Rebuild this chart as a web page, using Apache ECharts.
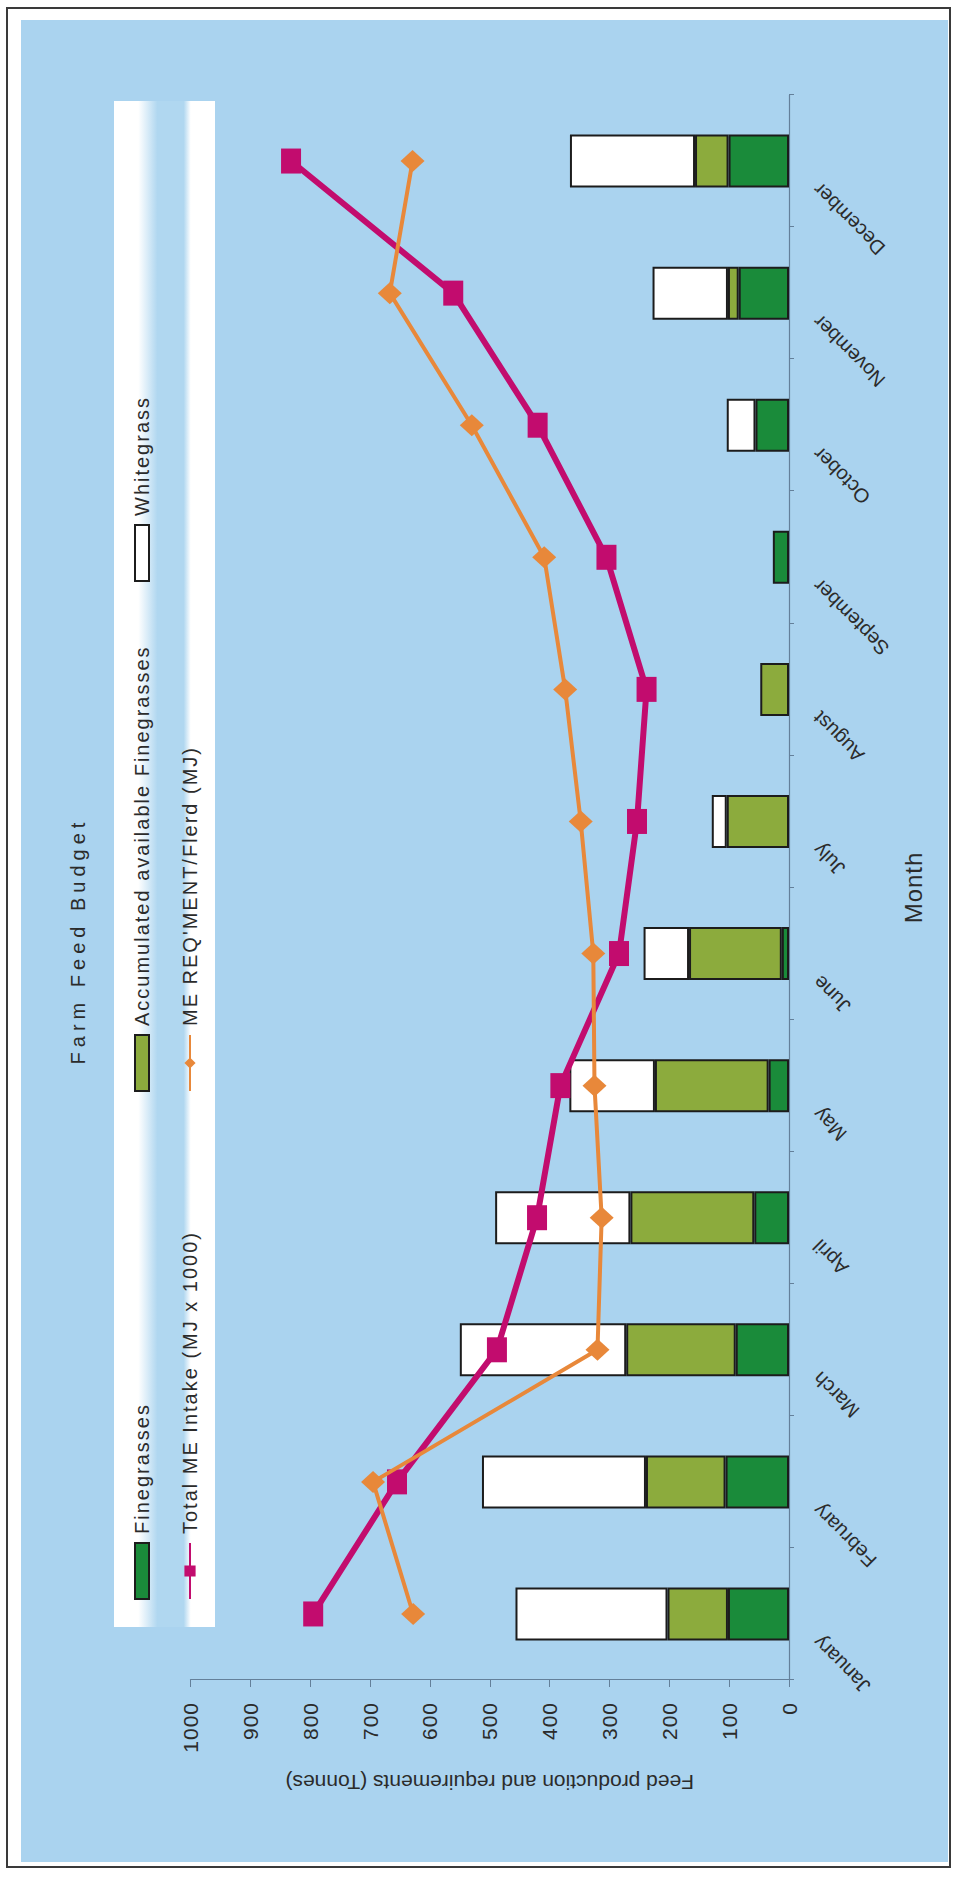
<!DOCTYPE html>
<html>
<head>
<meta charset="utf-8">
<title>Farm Feed Budget</title>
<script src="https://cdn.jsdelivr.net/npm/echarts@6/dist/echarts.min.js"></script>
<style>
  html, body { margin: 0; padding: 0; background: #ffffff; width: 955px; height: 1882px; overflow: hidden; }
  /* The chart is laid out landscape and turned a quarter turn anticlockwise onto the portrait page. */
  #chart {
    position: absolute; left: 0; top: 0;
    width: 1882px; height: 955px;
    transform-origin: 0 0;
    transform: translate(0, 1882px) rotate(-90deg);
  }
</style>
</head>
<body>
<div id="chart"></div>
<script>
// ---- data (tonnes / MJ per month) ----
const months = ['January', 'February', 'March', 'April', 'May', 'June',
                'July', 'August', 'September', 'October', 'November', 'December'];

const fineGrasses        = [102, 106,  89,  58,  34,  12,   0,   0,  27,  56,  84, 101];
const accumulatedFine    = [101, 133, 183, 207, 190, 155, 104,  48,   0,   0,  18,  56];
const whiteGrass         = [254, 274, 278, 226, 143,  76,  25,   0,   0,  48, 126, 209];

const totalMEIntake      = [795, 655, 488, 421, 382, 284, 254, 238, 305, 420, 561, 832];
const meRequirement      = [628, 695, 320, 313, 325, 327, 348, 374, 409, 530, 667, 629];

const valueMin = 0, valueMax = 1000, valueStep = 100;

// ---- names ----
const NAME_FINE  = 'Finegrasses';
const NAME_ACC   = 'Accumulated available Finegrasses';
const NAME_WHITE = 'Whitegrass';
const NAME_TOTAL = 'Total ME Intake (MJ x 1000)';
const NAME_REQ   = "ME REQ'MENT/Flerd (MJ)";

// ---- look ----
const FONT = "'Liberation Sans', Arial, Helvetica, sans-serif";
const INK = '#2b2b2b';
const AXIS = '#64809a';
const SKY = '#aad3ef';
const DARK_GREEN = '#1a8b3a';
const OLIVE = '#8cab3d';
const MAGENTA = '#c20c6e';
const ORANGE = '#e8883a';
const OUTLINE = '#1c1c1c';

const W = 1882, H = 955;

const chart = echarts.init(document.getElementById('chart'), null,
  { renderer: 'svg', width: W, height: H });

// Wider tracking on some of the lettering
const tracking = {
  'Farm Feed Budget': '5px',
  'Month': '1px'
};
[NAME_FINE, NAME_ACC, NAME_WHITE, NAME_TOTAL, NAME_REQ].forEach(n => tracking[n] = '2px');
for (let v = valueMin; v <= valueMax; v += valueStep) tracking[String(v)] = '1px';

function applyTracking() {
  document.querySelectorAll('#chart text').forEach(t => {
    const s = tracking[t.textContent];
    if (s) t.style.letterSpacing = s;
  });
}
chart.on('finished', applyTracking);

const blank = v => (v ? v : null);

const barBase = {
  type: 'bar',
  stack: 'feed',
  barWidth: 53
};

const legendBase = {
  orient: 'vertical',
  top: 127,
  itemWidth: 56,
  itemHeight: 14,
  itemGap: 28,
  selectedMode: false,
  textStyle: { fontFamily: FONT, fontSize: 20, color: INK, padding: [0, 0, 0, 4] }
};

chart.setOption({
  animation: false,
  backgroundColor: '#ffffff',
  textStyle: { fontFamily: FONT },
  graphic: [
    { type: 'rect', z: -20, silent: true,
      shape: { x: 15, y: 7, width: 1859, height: 943 },
      style: { fill: '#ffffff', stroke: '#3a3a3a', lineWidth: 2 } },
    { type: 'rect', z: -19, silent: true,
      shape: { x: 20, y: 21, width: 1842, height: 927 },
      style: { fill: SKY } },
    { type: 'rect', z: -18, silent: true,
      shape: { x: 255, y: 114, width: 1526, height: 101 },
      style: {
        fill: new echarts.graphic.LinearGradient(0, 0, 0, 1, [
          { offset: 0, color: '#ffffff' },
          { offset: 0.24, color: '#ffffff' },
          { offset: 0.43, color: '#b0d7f0' },
          { offset: 0.69, color: '#b0d7f0' },
          { offset: 0.76, color: '#ffffff' },
          { offset: 1, color: '#ffffff' }
        ])
      } }
  ],
  title: {
    text: 'Farm Feed Budget',
    left: 'center',
    top: 63,
    textStyle: { fontFamily: FONT, fontSize: 20, fontWeight: 'normal', color: INK }
  },
  legend: [
    Object.assign({}, legendBase, { left: 277, data: [{ name: NAME_FINE, icon: 'rect' }, { name: NAME_TOTAL }] }),
    Object.assign({}, legendBase, { left: 785, data: [{ name: NAME_ACC, icon: 'rect' }, { name: NAME_REQ }] }),
    Object.assign({}, legendBase, { left: 1295, data: [{ name: NAME_WHITE, icon: 'rect' }] })
  ],
  grid: { left: 202, right: 95, top: 190.5, bottom: 166, containLabel: false },
  xAxis: {
    type: 'category',
    data: months,
    boundaryGap: true,
    axisLine: { lineStyle: { color: AXIS, width: 1.2 } },
    axisTick: { show: true, length: 5, lineStyle: { color: AXIS } },
    axisLabel: {
      interval: 0, rotate: 45, margin: 2,
      padding: [0, 36, 0, 0],
      fontFamily: FONT, fontSize: 20, color: INK
    },
    splitLine: { show: false },
    name: 'Month',
    nameLocation: 'middle',
    nameGap: 112,
    nameTextStyle: { fontFamily: FONT, fontSize: 24, color: INK }
  },
  yAxis: {
    type: 'value',
    min: valueMin, max: valueMax, interval: valueStep,
    axisLine: { show: true, lineStyle: { color: AXIS, width: 1.2 } },
    axisTick: { show: true, length: 7, lineStyle: { color: AXIS } },
    axisLabel: {
      margin: 22, fontFamily: FONT, fontSize: 21, color: INK,
      formatter: v => String(v)
    },
    splitLine: { show: false },
    name: 'Feed production and requirements (Tonnes)',
    nameLocation: 'middle',
    nameRotate: 90,
    nameGap: 92,
    nameTextStyle: { fontFamily: FONT, fontSize: 21, color: INK }
  },
  series: [
    Object.assign({}, barBase, {
      name: NAME_FINE, data: fineGrasses.map(blank),
      itemStyle: { color: DARK_GREEN, borderColor: OUTLINE, borderWidth: 2 }
    }),
    Object.assign({}, barBase, {
      name: NAME_ACC, data: accumulatedFine.map(blank),
      itemStyle: { color: OLIVE, borderColor: OUTLINE, borderWidth: 2 }
    }),
    Object.assign({}, barBase, {
      name: NAME_WHITE, data: whiteGrass.map(blank),
      itemStyle: { color: '#ffffff', borderColor: OUTLINE, borderWidth: 2 }
    }),
    {
      name: NAME_TOTAL, type: 'line', data: totalMEIntake,
      symbol: 'rect', symbolSize: [25, 20],
      lineStyle: { color: MAGENTA, width: 6 },
      itemStyle: { color: MAGENTA },
      z: 5
    },
    {
      name: NAME_REQ, type: 'line', data: meRequirement,
      symbol: 'diamond', symbolSize: [22, 24],
      lineStyle: { color: ORANGE, width: 4 },
      itemStyle: { color: ORANGE },
      z: 6
    }
  ]
});
applyTracking();
</script>
</body>
</html>
